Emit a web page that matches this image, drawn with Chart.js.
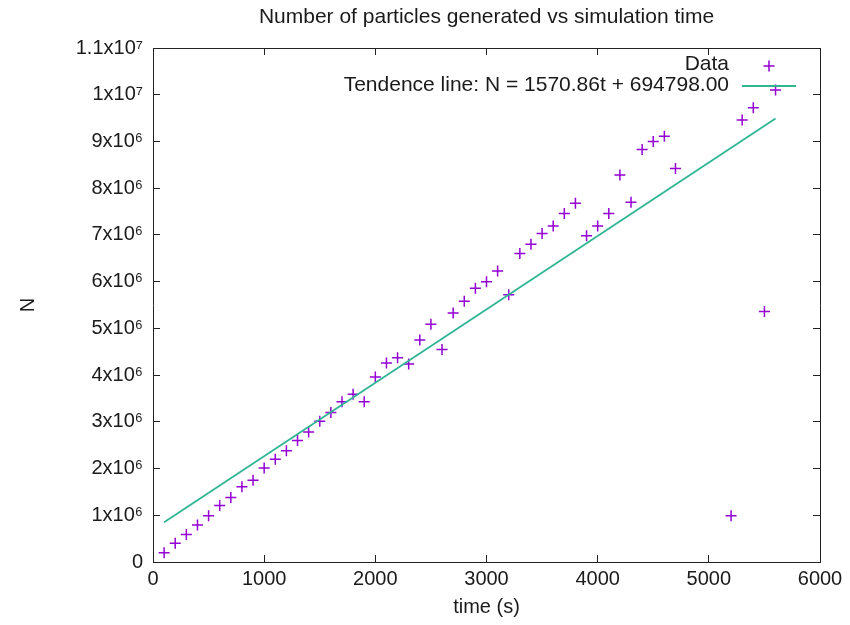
<!DOCTYPE html>
<html>
<head>
<meta charset="utf-8">
<script src="https://cdn.jsdelivr.net/npm/chart.js@4/dist/chart.umd.min.js"></script>
<style>
  html, body { margin: 0; padding: 0; background: #fff; }
  #wrap { width: 850px; height: 625px; }
</style>
</head>
<body>
<div id="wrap"><canvas id="c" width="850" height="625"></canvas></div>
<script>
// ---- data ----
const times = [100, 200, 300, 400, 500, 600, 700, 800, 900, 1000,
               1100, 1200, 1300, 1400, 1500, 1600, 1700, 1800, 1900, 2000,
               2100, 2200, 2300, 2400, 2500, 2600, 2700, 2800, 2900, 3000,
               3100, 3200, 3300, 3400, 3500, 3600, 3700, 3800, 3900, 4000,
               4100, 4200, 4300, 4400, 4500, 4600, 4700,
               5200, 5300, 5400, 5500, 5600];
const particles = [200000, 400000, 590000, 790000, 990000, 1210000, 1380000, 1610000, 1750000, 2010000,
                   2200000, 2380000, 2600000, 2780000, 3010000, 3200000, 3430000, 3590000, 3430000, 3960000,
                   4260000, 4370000, 4240000, 4750000, 5090000, 4550000, 5330000, 5580000, 5860000, 6000000,
                   6230000, 5720000, 6600000, 6800000, 7030000, 7190000, 7460000, 7680000, 6980000, 7190000,
                   7460000, 8280000, 7700000, 8830000, 9000000, 9110000, 8420000,
                   990000, 9460000, 9720000, 5360000, 10100000];
const trendTimes = [100, 5600];
const trendValues = [850000, 9490000];

const titleText = 'Number of particles generated vs simulation time';
const xTitle = 'time (s)';
const yTitle = 'N';
const dataLabel = 'Data';
const trendLabel = 'Tendence line: N = 1570.86t + 694798.00';
const xTickLabels = ['0', '1000', '2000', '3000', '4000', '5000', '6000'];
const yTickLabels = ['0', '1x10\u2076', '2x10\u2076', '3x10\u2076', '4x10\u2076', '5x10\u2076',
                     '6x10\u2076', '7x10\u2076', '8x10\u2076', '9x10\u2076', '1x10\u2077', '1.1x10\u2077'];

// ---- styling ----
const FONT = "'Liberation Sans', Arial, sans-serif";
const TXT = '#1a1a1a';
const PURPLE = '#9400d3';
const GREEN = '#30b594';

const scatterData = times.map((t, i) => ({ x: t, y: particles[i] }));
const trendData = trendTimes.map((t, i) => ({ x: t, y: trendValues[i] }));

const legendPlugin = {
  id: 'gnuLegend',
  afterDatasetsDraw(chart) {
    const ctx = chart.ctx;
    ctx.save();
    ctx.font = '21px ' + FONT;
    ctx.fillStyle = TXT;
    ctx.textAlign = 'right';
    ctx.textBaseline = 'middle';
    const xr = 729;
    ctx.fillText(chart.data.datasets[0].label, xr, 64);
    ctx.fillText(chart.data.datasets[1].label, xr, 85);
    // data marker
    ctx.strokeStyle = PURPLE;
    ctx.lineWidth = 1.5;
    ctx.beginPath();
    ctx.moveTo(763.5, 66); ctx.lineTo(774.5, 66);
    ctx.moveTo(769, 60.5); ctx.lineTo(769, 71.5);
    ctx.stroke();
    // line sample
    ctx.strokeStyle = GREEN;
    ctx.lineWidth = 1.8;
    ctx.beginPath();
    ctx.moveTo(742, 86); ctx.lineTo(796, 86);
    ctx.stroke();
    ctx.restore();
  }
};

const tickGrid = { drawOnChartArea: false, tickLength: -7, color: '#222', lineWidth: 1 };
const border = { display: true, color: '#222', width: 1 };
function noPad(s) { s.paddingLeft = 0; s.paddingRight = 0; s.paddingTop = 0; s.paddingBottom = 0; }

new Chart(document.getElementById('c'), {
  type: 'scatter',
  data: {
    datasets: [
      {
        label: dataLabel,
        data: scatterData,
        pointStyle: 'cross',
        pointRadius: 5.5,
        pointHoverRadius: 5.5,
        pointBorderWidth: 1.5,
        borderColor: PURPLE,
        backgroundColor: PURPLE,
        showLine: false,
        order: 2
      },
      {
        label: trendLabel,
        type: 'line',
        data: trendData,
        borderColor: GREEN,
        borderWidth: 1.8,
        pointRadius: 0,
        showLine: true,
        fill: false,
        order: 1
      }
    ]
  },
  options: {
    responsive: false,
    animation: false,
    devicePixelRatio: 1,
    layout: { padding: { left: 0, right: 0, top: 0, bottom: 0 } },
    plugins: {
      legend: { display: false },
      tooltip: { enabled: false },
      title: {
        display: true,
        text: titleText,
        fullSize: false,
        color: TXT,
        font: { family: FONT, size: 21, weight: 'normal' },
        padding: { top: 5, bottom: 17.8 }
      }
    },
    scales: {
      x: {
        type: 'linear', position: 'bottom', min: 0, max: 6000,
        afterFit(s) { s.height = 63; noPad(s); },
        afterBuildTicks(s) { s.ticks = xTickLabels.map(v => ({ value: Number(v) })); },
        ticks: {
          color: TXT, font: { family: FONT, size: 20 }, padding: 12, maxRotation: 0,
          callback: (v, i) => xTickLabels[i]
        },
        grid: tickGrid, border: border,
        title: { display: true, text: xTitle, color: TXT, font: { family: FONT, size: 20 }, padding: { top: 0, bottom: 6 } }
      },
      y: {
        type: 'linear', position: 'left', min: 0, max: 11000000,
        afterFit(s) { s.width = 153; noPad(s); },
        afterBuildTicks(s) { s.ticks = yTickLabels.map((l, i) => ({ value: i * 1000000 })); },
        ticks: {
          color: TXT, font: { family: FONT, size: 20 }, padding: 17,
          callback: (v, i) => yTickLabels[i]
        },
        grid: tickGrid, border: border,
        title: { display: true, text: yTitle, color: TXT, font: { family: FONT, size: 20 }, padding: { top: 16, bottom: 0 } }
      },
      x2: {
        type: 'linear', position: 'top', min: 0, max: 6000,
        afterFit(s) { s.height = 0; noPad(s); },
        afterBuildTicks(s) { s.ticks = xTickLabels.map(v => ({ value: Number(v) })); },
        ticks: { display: false },
        grid: tickGrid, border: border
      },
      y2: {
        type: 'linear', position: 'right', min: 0, max: 11000000,
        afterFit(s) { s.width = 30; noPad(s); },
        afterBuildTicks(s) { s.ticks = yTickLabels.map((l, i) => ({ value: i * 1000000 })); },
        ticks: { display: false },
        grid: tickGrid, border: border
      }
    }
  },
  plugins: [legendPlugin]
});
</script>
</body>
</html>
